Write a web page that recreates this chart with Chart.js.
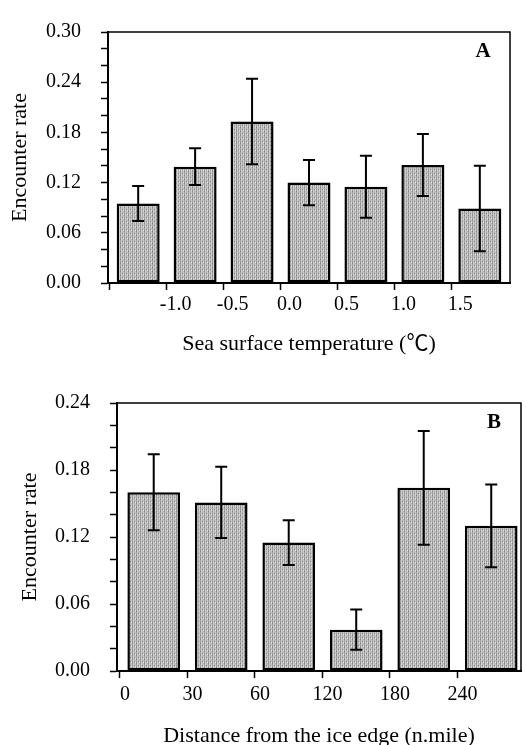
<!DOCTYPE html>
<html>
<head>
<meta charset="utf-8">
<script src="https://cdn.jsdelivr.net/npm/chart.js@4/dist/chart.umd.min.js"></script>
<style>
html, body { margin: 0; padding: 0; background: #fff; overflow: hidden; width: 526px; height: 745px; }
canvas { position: absolute; left: 0; }
#cA { top: 0; }
#cB { top: 360px; }
</style>
</head>
<body>
<canvas id="cA" width="526" height="360"></canvas>
<canvas id="cB" width="526" height="400"></canvas>
<script>
// ---- Panel A: sea surface temperature ----
const sstBinCenters = [-1.25, -0.75, -0.25, 0.25, 0.75, 1.25, 1.75];
const sstRate = [0.095, 0.139, 0.193, 0.120, 0.115, 0.141, 0.089];
const sstError = [0.021, 0.022, 0.051, 0.027, 0.037, 0.037, 0.051];
const sstEdges = [-1.5, -1.0, -0.5, 0.0, 0.5, 1.0, 1.5];
const sstTickLabels = ['', '-1.0', '-0.5', '0.0', '0.5', '1.0', '1.5'];
const rateTickLabelsA = ['0.00', '0.06', '0.12', '0.18', '0.24', '0.30'];

// ---- Panel B: distance from the ice edge ----
const distBinCenters = [0.5, 1.5, 2.5, 3.5, 4.5, 5.5];
const distRate = [0.160, 0.151, 0.115, 0.037, 0.164, 0.130];
const distError = [0.034, 0.032, 0.020, 0.018, 0.051, 0.037];
const distEdges = [0, 1, 2, 3, 4, 5];
const distTickLabels = ['0', '30', '60', '120', '180', '240'];
const rateTickLabelsB = ['0.00', '0.06', '0.12', '0.18', '0.24'];

const yTitle = 'Encounter rate';
const xTitleA = 'Sea surface temperature (\u2103)';
const xTitleB = 'Distance from the ice edge (n.mile)';
const panelLetters = ['A', 'B'];

Chart.defaults.font.family = '"Liberation Serif", "Noto Sans CJK SC", serif';
Chart.defaults.color = '#000';

function makePattern(canvas) {
  const c = document.createElement('canvas');
  c.width = 4; c.height = 4;
  const g = c.getContext('2d');
  const cols = ['#9c9c9c', '#cdcdcd', '#b1b1b1', '#c8c8c8'];
  for (let i = 0; i < 4; i++) { g.fillStyle = cols[i]; g.fillRect(i, 0, 1, 4); }
  g.fillStyle = '#858585'; g.fillRect(2, 1, 1, 1); g.fillRect(0, 3, 1, 1);
  g.fillStyle = '#dcdcdc'; g.fillRect(3, 2, 1, 1);
  return canvas.getContext('2d').createPattern(c, 'repeat');
}

const panelDecor = {
  id: 'panelDecor',
  afterDatasetsDraw(chart, args, opts) {
    const { ctx } = chart;
    const y = chart.scales.y;
    const meta = chart.getDatasetMeta(0);
    const pts = chart.data.datasets[0].data;
    ctx.save();
    ctx.strokeStyle = '#000';
    ctx.lineWidth = 2;
    meta.data.forEach((bar, i) => {
      const m = pts[i].y, e = opts.errors[i];
      const yt = y.getPixelForValue(m + e), yb = y.getPixelForValue(m - e);
      ctx.beginPath();
      ctx.moveTo(bar.x, yt); ctx.lineTo(bar.x, yb);
      ctx.moveTo(bar.x - 6, yt); ctx.lineTo(bar.x + 6, yt);
      ctx.moveTo(bar.x - 6, yb); ctx.lineTo(bar.x + 6, yb);
      ctx.stroke();
    });
    ctx.restore();
  },
  afterDraw(chart, args, opts) {
    const { ctx, chartArea: a } = chart;
    ctx.save();
    ctx.strokeStyle = '#000';
    ctx.lineWidth = 1.5;
    ctx.beginPath();
    ctx.moveTo(a.left, a.top);
    ctx.lineTo(a.right, a.top);
    ctx.lineTo(a.right, a.bottom);
    ctx.stroke();
    ctx.font = 'bold 21px "Liberation Serif", serif';
    ctx.textAlign = 'center';
    ctx.textBaseline = 'middle';
    ctx.fillStyle = '#000';
    ctx.fillText(opts.letter, a.right - 27, a.top + 20);
    ctx.restore();
  }
};

function buildChart(canvas, cfg) {
  const fill = makePattern(canvas);
  const yStep = 0.02;
  return new Chart(canvas, {
    type: 'bar',
    data: {
      datasets: [{
        data: cfg.centers.map((x, i) => ({ x: x, y: cfg.rate[i] })),
        backgroundColor: fill,
        borderColor: '#000',
        borderWidth: 2.5,
        borderSkipped: false,
        categoryPercentage: 1,
        barPercentage: cfg.barPct
      }]
    },
    options: {
      responsive: false,
      animation: false,
      events: [],
      layout: { padding: { top: cfg.padTop, right: cfg.padRight, left: 0, bottom: 0 } },
      plugins: {
        legend: { display: false },
        tooltip: { enabled: false },
        panelDecor: { errors: cfg.err, letter: cfg.letter }
      },
      scales: {
        x: {
          type: 'linear',
          min: cfg.xMin, max: cfg.xMax,
          offset: false,
          afterBuildTicks: s => { s.ticks = cfg.edges.map(v => ({ value: v })); },
          afterFit: s => { s.height = cfg.xHeight; },
          ticks: {
            autoSkip: false,
            maxRotation: 0,
            font: { size: 20 },
            padding: cfg.xTickPad,
            labelOffset: cfg.labelOffset,
            callback: (v, i) => cfg.edgeLabels[i]
          },
          grid: { offset: false, drawOnChartArea: false, drawTicks: true, tickLength: 7, tickWidth: 1.5, color: '#000' },
          border: { display: true, color: '#000', width: 2 },
          title: { display: true, text: cfg.xTitle, font: { size: 22 }, padding: { top: 0, bottom: cfg.xTitlePad } }
        },
        y: {
          type: 'linear',
          min: 0, max: cfg.yMax,
          afterBuildTicks: s => {
            const t = [];
            const n = Math.round(cfg.yMax / yStep);
            for (let k = 0; k <= n; k++) t.push({ value: Math.round(k * yStep * 100) / 100 });
            s.ticks = t;
          },
          afterFit: s => { s.width = cfg.yWidth; },
          ticks: {
            autoSkip: false,
            font: { size: 20 },
            padding: 20,
            callback: (v, i) => (i % 3 === 0 ? cfg.yLabels[i / 3] : '')
          },
          grid: { drawOnChartArea: false, drawTicks: true, tickLength: 7, tickWidth: 1.5, color: '#000' },
          border: { display: true, color: '#000', width: 2 },
          title: { display: true, text: yTitle, font: { size: 22 }, padding: { top: cfg.yTitlePad, bottom: 0 } }
        }
      }
    },
    plugins: [panelDecor]
  });
}

buildChart(document.getElementById('cA'), {
  centers: sstBinCenters, rate: sstRate, err: sstError,
  edges: sstEdges, edgeLabels: sstTickLabels, yLabels: rateTickLabelsA,
  yMax: 0.30, xMin: -1.515, xMax: 2.015, barPct: 0.755,
  padTop: 20, padRight: 16, xHeight: 77, yWidth: 108,
  xTickPad: 2.5, labelOffset: 9, xTitle: xTitleA, xTitlePad: 2.5,
  yTitlePad: 7, letter: panelLetters[0]
});

buildChart(document.getElementById('cB'), {
  centers: distBinCenters, rate: distRate, err: distError,
  edges: distEdges, edgeLabels: distTickLabels, yLabels: rateTickLabelsB,
  yMax: 0.24, xMin: -0.044, xMax: 5.941, barPct: 0.78,
  padTop: 43, padRight: 5, xHeight: 89, yWidth: 117,
  xTickPad: 4.5, labelOffset: 5, xTitle: xTitleB, xTitlePad: 11,
  yTitlePad: 17, letter: panelLetters[1]
});
</script>
</body>
</html>
